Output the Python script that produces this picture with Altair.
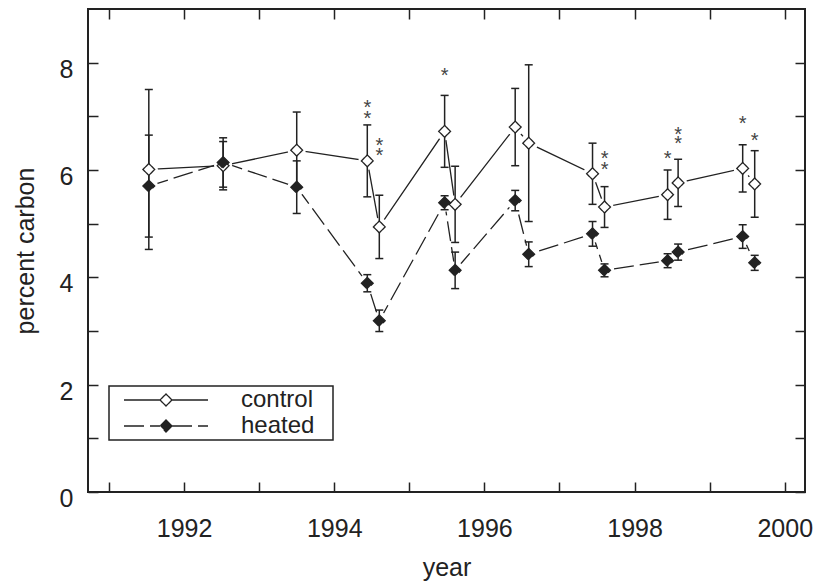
import altair as alt
import pandas as pd

# ---- data ----
years = [1991.53, 1992.52, 1993.50, 1994.44, 1994.60, 1995.47, 1995.61,
         1996.41, 1996.59, 1997.44, 1997.60, 1998.44, 1998.58, 1999.44, 1999.60]
control_mean = [6.01, 6.08, 6.37, 6.17, 4.94, 6.72, 5.36,
                6.80, 6.50, 5.93, 5.31, 5.54, 5.76, 6.03, 5.74]
control_err = [1.49, 0.45, 0.71, 0.67, 0.59, 0.67, 0.71,
               0.72, 1.46, 0.57, 0.38, 0.46, 0.44, 0.44, 0.62]
heated_mean = [5.70, 6.14, 5.68, 3.89, 3.19, 5.39, 4.13,
               5.43, 4.43, 4.81, 4.13, 4.31, 4.47, 4.76, 4.27]
heated_err = [0.95, 0.46, 0.49, 0.16, 0.20, 0.13, 0.34,
              0.19, 0.23, 0.23, 0.12, 0.13, 0.15, 0.22, 0.14]
series_names = ["control", "heated"]

star_x = [1994.44, 1994.44, 1994.60, 1994.60, 1995.47, 1997.60, 1997.60,
          1998.44, 1998.58, 1998.58, 1999.44, 1999.60]
star_y = [7.26, 7.07, 6.56, 6.37, 7.87, 6.31, 6.12,
          6.31, 6.77, 6.59, 6.97, 6.66]

x_ticks = list(range(1991, 2001))
y_ticks = list(range(0, 9))

# ---- tables ----
rows = []
for name, means, errs in ((series_names[0], control_mean, control_err),
                          (series_names[1], heated_mean, heated_err)):
    for yr, m, e in zip(years, means, errs):
        rows.append({"year": yr, "value": m, "lo": m - e, "hi": m + e, "series": name})
df = pd.DataFrame(rows)
stars = pd.DataFrame({"year": star_x, "value": star_y})

INK = "#222222"
FONT = "Liberation Sans"

xscale = alt.Scale(domain=[1990.72, 2000.27], nice=False, zero=False)
yscale = alt.Scale(domain=[0, 9], nice=False, zero=False)

xaxis = alt.Axis(values=x_ticks, format="d",
                 labelExpr="datum.value % 2 == 0 ? datum.label : ''",
                 offset=-10, tickSize=10, tickWidth=1.5, tickColor=INK,
                 domain=False, grid=False, labelFontSize=25, labelFont=FONT,
                 labelColor=INK, labelPadding=24, labelFlush=False, labelOverlap=False,
                 title="year", titleFontSize=25, titleFont=FONT, titleColor=INK,
                 titleFontWeight="normal", titleBaseline="alphabetic", titleY=93)
yaxis = alt.Axis(values=y_ticks,
                 labelExpr="datum.value % 2 == 0 ? datum.label : ''",
                 offset=-10, tickSize=10, tickWidth=1.5, tickColor=INK,
                 domain=False, grid=False, labelFontSize=25, labelFont=FONT,
                 labelColor=INK, labelPadding=15, labelOffset=6.5, labelOverlap=False,
                 labelBaseline="middle", labelFlush=False,
                 title="percent carbon", titleFontSize=25, titleFont=FONT, titleColor=INK,
                 titleFontWeight="normal", titleAngle=270, titleAlign="center",
                 titleBaseline="alphabetic", titleX=-64.5, titleY=241.5)


def X(field="year"):
    return alt.X(f"{field}:Q", scale=xscale, axis=xaxis, title="year")


def Y(field="value"):
    return alt.Y(f"{field}:Q", scale=yscale, axis=yaxis, title="percent carbon")


base = alt.Chart(df)

line_control = base.transform_filter(alt.datum.series == "control").mark_line(
    color=INK, strokeWidth=1.3).encode(x=X(), y=Y(), order="year:Q")
line_heated = base.transform_filter(alt.datum.series == "heated").mark_line(
    color=INK, strokeWidth=1.3, strokeDash=[20, 6]).encode(x=X(), y=Y(), order="year:Q")

halo = base.mark_point(shape="circle", size=330, filled=True, color="white",
                       opacity=1).encode(x=X(), y=Y())

stems = base.mark_rule(color=INK, strokeWidth=1.5).encode(
    x=X(), y=Y("lo"), y2="hi:Q")
caps_lo = base.mark_tick(color=INK, orient="horizontal", size=8, thickness=1.5,
                         opacity=1).encode(x=X(), y=Y("lo"))
caps_hi = base.mark_tick(color=INK, orient="horizontal", size=8, thickness=1.5,
                         opacity=1).encode(x=X(), y=Y("hi"))

# legend key: line - diamond - line; the trailing move-to widens the legend frame
legend_symbol = "M0,0L6,0M7,-1L8,0L7,1L6,0ZM8,0L14,0M34,0"
legend = alt.Legend(orient="none", legendX=21, legendY=377, title=None,
                    symbolType=legend_symbol, symbolSize=144,
                    symbolStrokeColor=INK, symbolStrokeWidth=1.3,
                    labelFontSize=24, labelFont=FONT, labelColor=INK,
                    symbolOffset=1, labelOffset=105, padding=2, rowPadding=2,
                    strokeColor=INK, fillColor="white")

points = base.mark_point(shape="diamond", size=140, strokeWidth=1.3, stroke=INK,
                         opacity=1, fillOpacity=1, filled=True).encode(
    x=X(), y=Y(),
    fill=alt.Fill("series:N", scale=alt.Scale(domain=series_names, range=["white", INK]),
                  legend=legend),
    strokeDash=alt.StrokeDash("series:N",
                              scale=alt.Scale(domain=series_names, range=[[1, 0], [20, 6]]),
                              legend=legend),
    order=alt.Order("series:N"),
)

star_marks = alt.Chart(stars).mark_text(
    text="*", fontSize=20, font=FONT, color="#444444", baseline="alphabetic", dy=12
).encode(x=X(), y=Y())

main = alt.layer(line_control, line_heated, halo, stems, caps_lo, caps_hi, points, star_marks)

frame_axes = base.mark_point(opacity=0).encode(
    x=alt.X("year:Q", scale=xscale,
            axis=alt.Axis(orient="top", values=x_ticks, labels=False, offset=-10,
                          tickSize=10, tickWidth=1.5, tickColor=INK, domain=False,
                          grid=False, title=None)),
    y=alt.Y("value:Q", scale=yscale,
            axis=alt.Axis(orient="right", values=y_ticks, labels=False, offset=-10,
                          tickSize=10, tickWidth=1.5, tickColor=INK, domain=False,
                          grid=False, title=None)),
)

chart = alt.layer(main, frame_axes).resolve_scale(
    x="independent", y="independent"
).properties(
    width=717, height=483,
    autosize=alt.AutoSizeParams(type="none"),
    padding={"left": 88, "top": 9, "right": 10, "bottom": 90},
).configure_view(stroke=INK, strokeWidth=2).configure_legend(strokeWidth=1.5)

chart.save("out.html", embed_options={"renderer": "svg", "actions": False})
